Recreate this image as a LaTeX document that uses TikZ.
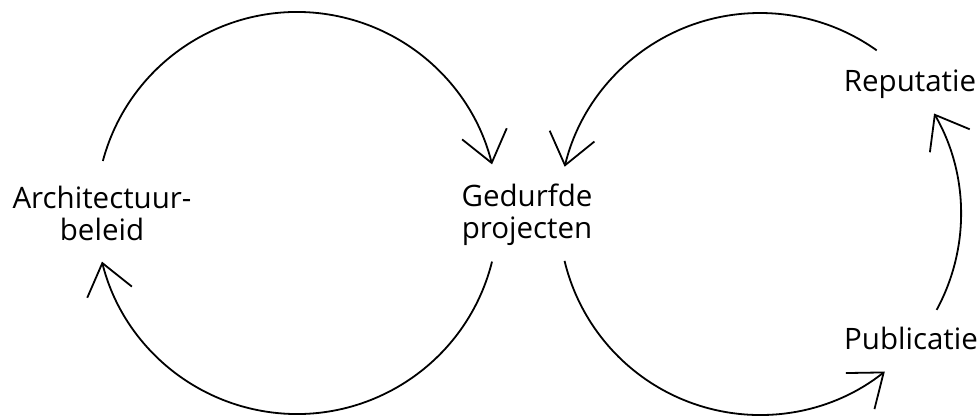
\documentclass[tikz,border=0pt]{standalone}
\usepackage{fontspec}
\setmainfont{Open Sans}
\usetikzlibrary{arrows.meta}
\begin{document}
\begin{tikzpicture}[x=1pt,y=1pt,
  lbl/.style={font=\fontsize{29.5}{32}\selectfont, align=center, inner sep=0pt},
  loop/.style={line width=1.8pt, -{Straight Barb[length=30pt,width=46pt,line width=1.8pt]}}]
\useasboundingbox (0,0) rectangle (978,416);
\coordinate (cl) at (297,203);
\coordinate (cr) at (760,202);
\node[lbl] (arch) at (102,203) {Architectuur-\\beleid};
\node[lbl] (ged) at (527,201) {Gedurfde\\projecten};
\node[lbl, anchor=base] (rep) at (910,324) {Reputatie};
\node[lbl, anchor=base] (pub) at (911,67) {Publicatie};
% left loop
\draw[loop] (cl) ++(165:201) arc[start angle=165, end angle=14, radius=201];
\draw[loop] (cl) ++(-14:201) arc[start angle=-14, end angle=-166, radius=201];
% right loop
\draw[loop] (cr) ++(54.5:201) arc[start angle=54.5, end angle=166.4, radius=201];
\draw[loop] (cr) ++(193.5:201) arc[start angle=193.5, end angle=308.4, radius=201];
\draw[loop] (cr) ++(-28.5:201) arc[start angle=-28.5, end angle=30, radius=201];
\end{tikzpicture}
\end{document}
